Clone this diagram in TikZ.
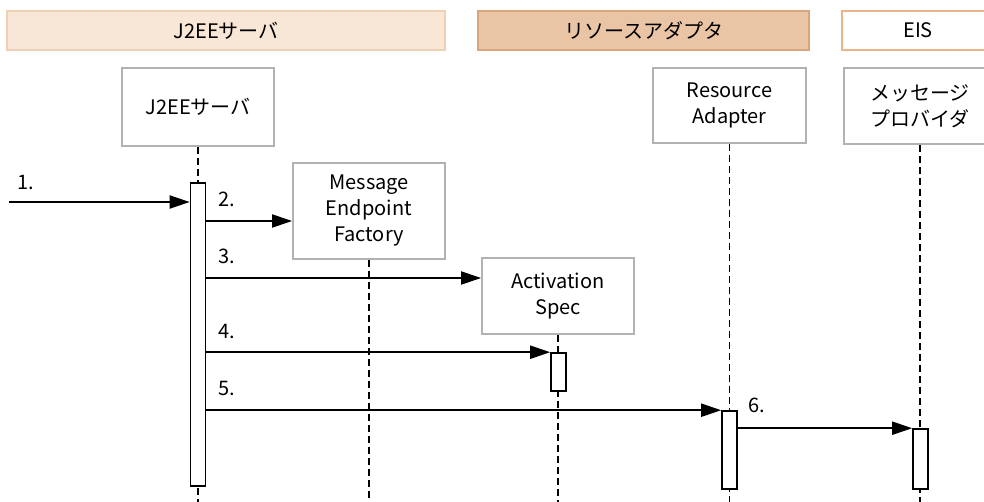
\documentclass[tikz,border=0pt]{standalone}
\usepackage{fontspec}
\setmainfont{Noto Sans CJK JP}
\usepackage{tikz}
\usetikzlibrary{arrows.meta,positioning}

\definecolor{laneA}{RGB}{248,230,214}
\definecolor{laneAline}{RGB}{238,208,180}
\definecolor{laneB}{RGB}{233,197,165}
\definecolor{laneBline}{RGB}{216,165,125}
\definecolor{laneCline}{RGB}{235,180,138}
\definecolor{boxline}{RGB}{178,178,178}

\begin{document}
\begin{tikzpicture}[
    x=1pt, y=-1pt,
    font=\fontsize{20}{26}\selectfont,
    lane/.style={rectangle, line width=1.5pt, minimum height=39pt, inner sep=0pt},
    obj/.style={rectangle, draw=boxline, line width=1.8pt, fill=white, align=center, inner sep=0pt},
    actbar/.style={rectangle, draw, line width=1.6pt, fill=white, minimum width=15pt, inner sep=0pt},
    life/.style={dashed, dash pattern=on 7pt off 4pt, line width=1.9pt},
    msg/.style={-{Triangle[length=20pt,width=13pt]}, line width=2pt},
    num/.style={anchor=west, inner sep=0pt}
]
\useasboundingbox (0,0) rectangle (984,502);

% lanes
\node[lane, fill=laneA, draw=laneAline, minimum width=438pt] (laneserver) at (226,30.5) {J2EEサーバ};
\node[lane, fill=laneB, draw=laneBline, minimum width=331pt] (laneadapter) at (643.5,30.5) {リソースアダプタ};
\node[lane, fill=white, draw=laneCline, minimum width=152pt] (laneeis) at (918,30.5) {EIS};

% objects
\node[obj, minimum width=152pt, minimum height=78pt] (server) at (198,107) {J2EEサーバ};
\node[obj, minimum width=152pt, minimum height=96pt] (factory) at (369,211) {Message\\Endpoint\\Factory};
\node[obj, minimum width=152pt, minimum height=76pt] (spec) at (558,296) {Activation\\Spec};
\node[obj, minimum width=153pt, minimum height=75pt] (adapter) at (729.5,105.5) {Resource\\Adapter};
\node[obj, minimum width=152pt, minimum height=76pt] (provider) at (920,106) {メッセージ\\プロバイダ};

\coordinate (bottom) at (0,502);
\coordinate (start) at (9,202);

% lifelines
\draw[life] (server.south) -- (server.south |- bottom);
\draw[life] (factory.south) -- (factory.south |- bottom);
\draw[life] (spec.south) -- (spec.south |- bottom);
\draw[life] (adapter.south) -- (adapter.south |- bottom);
\draw[life] (provider.south) -- (provider.south |- bottom);

% activations
\node[actbar, minimum height=303pt] (serverbar) at (198,334.5) {};
\node[actbar, minimum height=38pt] (specbar) at (558.5,372) {};
\node[actbar, minimum height=78pt] (adapterbar) at (729.5,450) {};
\node[actbar, minimum height=60pt] (providerbar) at (920.5,459) {};

% messages
\draw[msg] (start) -- (serverbar.west |- start);
\draw[msg] (serverbar.east |- 0,221) -- (factory.west |- 0,221);
\draw[msg] (serverbar.east |- 0,278) -- (spec.west |- 0,278);
\draw[msg] (serverbar.east |- specbar.north) -- (specbar.north west);
\draw[msg] (serverbar.east |- adapterbar.north) -- (adapterbar.north west);
\draw[msg] (adapterbar.east |- providerbar.north) -- (providerbar.north west);

\node[num] (n1) at (17,183) {1.};
\node[num] (n2) at (218,199) {2.};
\node[num] (n3) at (218,256) {3.};
\node[num] (n4) at (218,331) {4.};
\node[num] (n5) at (218,388) {5.};
\node[num] (n6) at (748,405) {6.};

\end{tikzpicture}
\end{document}
